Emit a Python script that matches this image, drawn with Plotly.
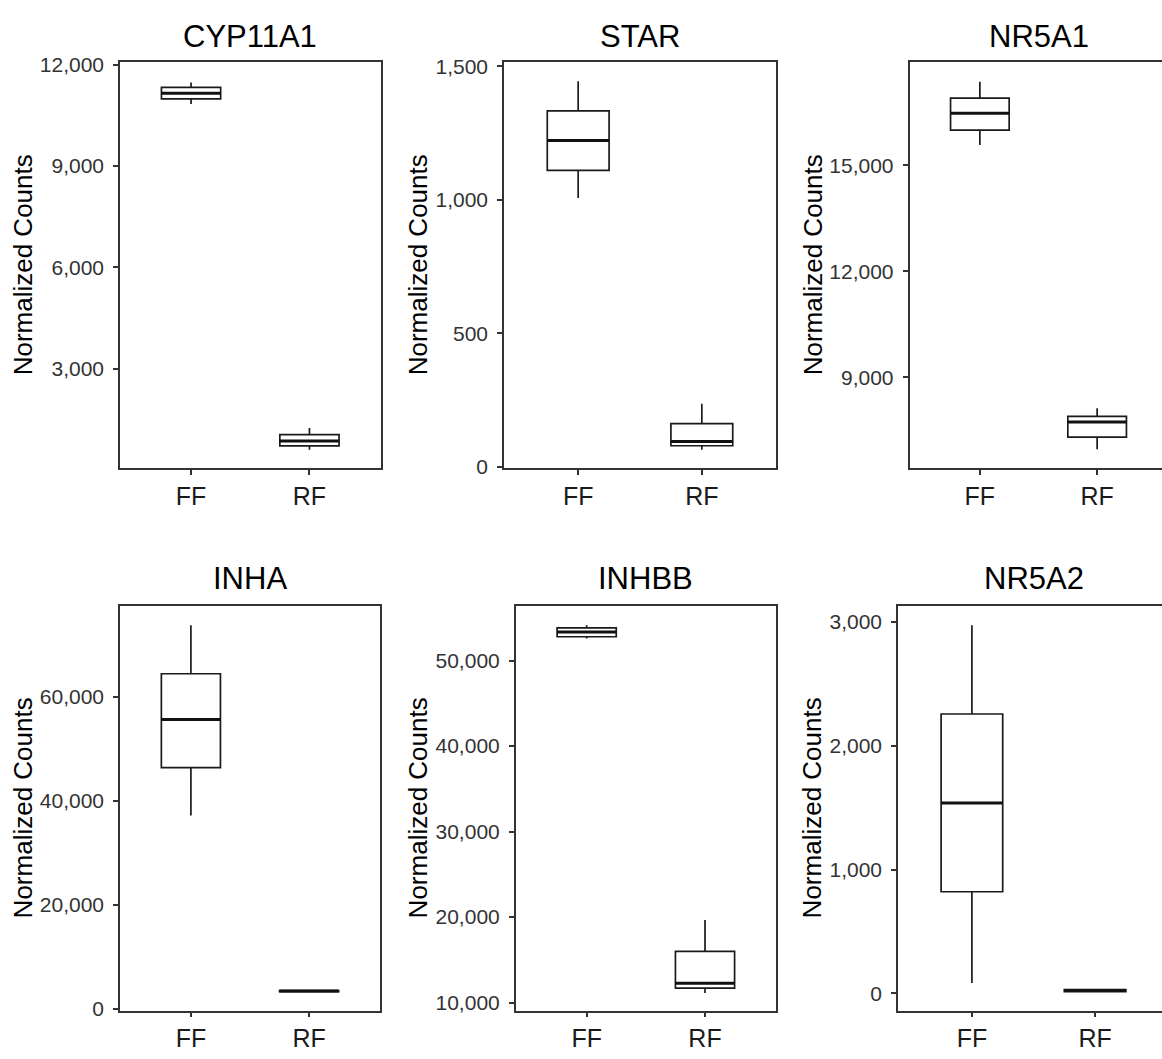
import plotly.graph_objects as go

# ---------------- data ----------------
genes = ["CYP11A1", "STAR", "NR5A1", "INHA", "INHBB", "NR5A2"]
groups = ["FF", "RF"]

# [lower whisker, Q1, median, Q3, upper whisker]
ff_stats = {
    "CYP11A1": [10830, 10985, 11150, 11325, 11470],
    "STAR":    [1007, 1111, 1223, 1334, 1445],
    "NR5A1":   [15584, 16002, 16483, 16909, 17374],
    "INHA":    [37170, 46359, 55604, 64396, 73717],
    "INHBB":   [52595, 52790, 53330, 53823, 54133],
    "NR5A2":   [84, 821, 1538, 2257, 2974],
}
rf_stats = {
    "CYP11A1": [606, 722, 867, 1058, 1252],
    "STAR":    [64, 79, 95, 162, 236],
    "NR5A1":   [6960, 7302, 7728, 7887, 8118],
    "INHA":    [3250, 3350, 3450, 3550, 3650],
    "INHBB":   [11114, 11688, 12262, 15982, 19656],
    "NR5A2":   [10, 15, 24, 30, 38],
}

y_ticks = {
    "CYP11A1": [3000, 6000, 9000, 12000],
    "STAR":    [0, 500, 1000, 1500],
    "NR5A1":   [9000, 12000, 15000],
    "INHA":    [0, 20000, 40000, 60000],
    "INHBB":   [10000, 20000, 30000, 40000, 50000],
    "NR5A2":   [0, 1000, 2000, 3000],
}
y_ranges = {
    "CYP11A1": [64, 12060],
    "STAR":    [-5, 1515],
    "NR5A1":   [6420, 17920],
    "INHA":    [-320, 77400],
    "INHBB":   [9050, 56380],
    "NR5A2":   [-140, 3129],
}
y_title = "Normalized Counts"

# ---------------- layout geometry (pixels) ----------------
W, H = 1175, 1059
x_px = [(120, 380.5), (504, 776), (909.5, 1167.5), (120, 380), (515.7, 776), (898, 1169)]
y_px = [(53.5, 467)] * 3 + [(607.5, 1020)] * 3
ytitle_x = [23, 418, 813, 23, 418, 812]
title_y = [27, 27, 27, 579, 579, 579]

FONT = "Liberation Sans, Arial, sans-serif"
AX = "#333333"

fig = go.Figure()
layout = dict(
    width=W, height=H,
    margin=dict(l=0, r=0, t=0, b=0),
    paper_bgcolor="white", plot_bgcolor="white",
    showlegend=False,
    font=dict(family=FONT, color="#000000"),
    annotations=[],
)

for i, g in enumerate(genes):
    n = i + 1
    xa = "x" if n == 1 else f"x{n}"
    ya = "y" if n == 1 else f"y{n}"
    ff, rf = ff_stats[g], rf_stats[g]
    fig.add_trace(go.Box(
        x=groups,
        lowerfence=[ff[0], rf[0]], q1=[ff[1], rf[1]], median=[ff[2], rf[2]],
        q3=[ff[3], rf[3]], upperfence=[ff[4], rf[4]],
        xaxis=xa, yaxis=ya, width=0.5, whiskerwidth=0,
        fillcolor="white", line=dict(color="#1a1a1a", width=1.7),
        boxpoints=False, hoverinfo="skip", showlegend=False,
    ))
    # thicker median line
    meds = [ff[2], rf[2]]
    fig.add_trace(go.Box(
        x=groups, lowerfence=meds, q1=meds, median=meds, q3=meds, upperfence=meds,
        xaxis=xa, yaxis=ya, width=0.5, whiskerwidth=0,
        fillcolor="rgba(0,0,0,0)", line=dict(color="#111111", width=3),
        boxpoints=False, hoverinfo="skip", showlegend=False,
    ))

    x0, x1 = x_px[i]
    y0, y1 = y_px[i]
    xk = "xaxis" if n == 1 else f"xaxis{n}"
    yk = "yaxis" if n == 1 else f"yaxis{n}"
    layout[xk] = dict(
        domain=[x0 / W, x1 / W], anchor=ya, type="category",
        range=[-0.6, 1.6], showline=True, mirror=True, linecolor=AX, linewidth=1.5,
        ticks="outside", ticklen=5, tickwidth=1.5, tickcolor=AX,
        tickfont=dict(size=25, color="#1a1a1a", family=FONT),
        showgrid=False, zeroline=False, fixedrange=True,
    )
    layout[yk] = dict(
        domain=[1 - y1 / H, 1 - y0 / H], anchor=xa,
        range=y_ranges[g], tickvals=y_ticks[g], tickformat=",d",
        showline=True, mirror=True, linecolor=AX, linewidth=1.5,
        ticks="outside", ticklen=5, tickwidth=1.5, tickcolor=AX,
        ticklabelstandoff=5,
        tickfont=dict(size=21, color="#333333", family=FONT),
        showgrid=False, zeroline=False, fixedrange=True,
    )
    layout["annotations"].append(dict(
        text=g, xref="paper", yref="paper",
        x=(x0 + x1) / 2 / W, y=1 - title_y[i] / H,
        xanchor="center", yanchor="middle", showarrow=False,
        font=dict(size=31, color="#000000", family=FONT),
    ))
    layout["annotations"].append(dict(
        text=y_title, xref="paper", yref="paper", textangle=-90,
        x=ytitle_x[i] / W, y=1 - (y0 + y1) / 2 / H,
        xanchor="center", yanchor="middle", showarrow=False,
        font=dict(size=26, color="#000000", family=FONT),
    ))

fig.update_layout(**layout)

fig.write_html(
    "out.html",
    config={"displayModeBar": False},
    post_script="document.documentElement.style.overflow='hidden';"
                "document.body.style.margin='0px';document.body.style.overflow='hidden';",
)
